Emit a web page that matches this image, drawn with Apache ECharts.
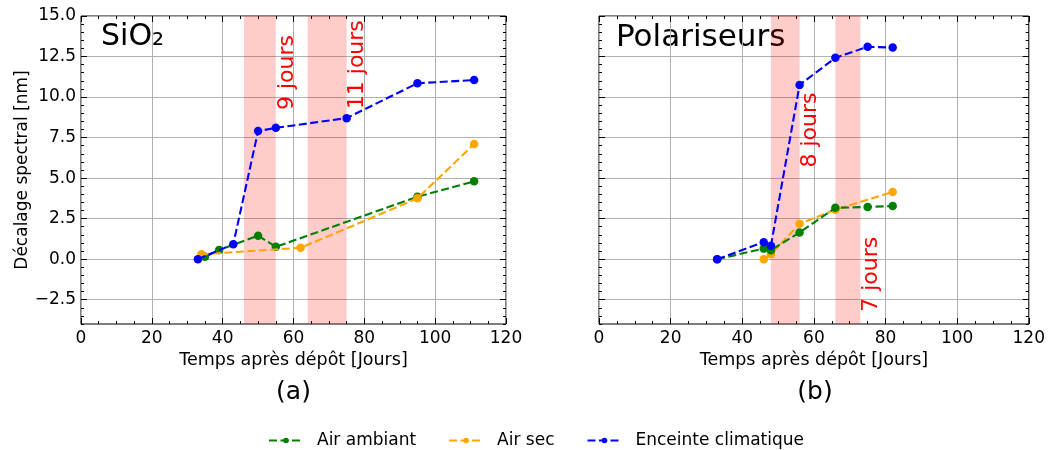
<!DOCTYPE html>
<html>
<head>
<meta charset="utf-8">
<script src="https://cdn.jsdelivr.net/npm/echarts@6/dist/echarts.min.js"></script>
<style>
  html, body { margin: 0; padding: 0; background: #fff; }
  #chart { width: 1048px; height: 450px; }
</style>
</head>
<body>
<div id="chart"></div>
<script>
const FONT = "DejaVu Sans";

// series names (legend order)
const names = ["Air ambiant", "Air sec", "Enceinte climatique"];
const colors = ["#008000", "#FFA500", "#0000FF"];

// (a) SiO2 : [jours, décalage nm]
const ambiantA = [[35, 0.15], [39, 0.57], [50, 1.45], [55, 0.76], [95, 3.85], [111, 4.8]];
const secA = [[34, 0.3], [62, 0.7], [95, 3.75], [111, 7.1]];
const enceinteA = [[33, 0], [43, 0.92], [50, 7.9], [55, 8.1], [75, 8.7], [95, 10.85], [111, 11.05]];

// (b) Polariseurs
const ambiantB = [[33, 0], [46, 0.65], [48, 0.55], [56, 1.65], [66, 3.17], [75, 3.22], [82, 3.28]];
const secB = [[46, 0], [48, 0.3], [56, 2.18], [66, 3.05], [82, 4.15]];
const enceinteB = [[33, 0], [46, 1.05], [48, 0.82], [56, 10.75], [66, 12.42], [75, 13.1], [82, 13.05]];

// shaded periods [start, end] and their labels [x, y, text]
const bandsA = [[46, 55], [64, 75]];
const bandsB = [[48, 56], [66, 73]];
const annotA = [[55, 9.2, "9 jours"], [75, 9.25, "11 jours"]];
const annotB = [[56, 5.65, "8 jours"], [73, -3.25, "7 jours"]];

// axes
const xMin = 0, xMax = 120, xStep = 20;
const yMin = -4, yMax = 15, yMinorStep = 0.5;
const yTicks = [-2.5, 0, 2.5, 5, 7.5, 10, 12.5, 15];

const txt = { fontFamily: FONT, color: "#000" };
const noLine = { show: false, onZero: false };

function xAxes(gi) {
  const base = {
    gridIndex: gi, type: "value", min: xMin, max: xMax, interval: xStep,
    axisLine: noLine,
    axisTick: { inside: true, length: 6, lineStyle: { color: "#000" } },
    minorTick: { show: true, splitNumber: 4, length: 3, lineStyle: { color: "#000" } },
  };
  return [
    Object.assign({}, base, {
      position: "bottom",
      axisLabel: Object.assign({ fontSize: 17, margin: 6 }, txt),
      splitLine: { show: true, lineStyle: { color: "#b0b0b0", width: 1 } },
      name: "Temps après dépôt [Jours]",
      nameLocation: "middle",
      nameGap: 27,
      nameTextStyle: Object.assign({ fontSize: 17.5 }, txt),
    }),
    Object.assign({}, base, {
      position: "top",
      axisLabel: { show: false },
      splitLine: { show: false },
    }),
  ];
}

function yAxes(gi, labels) {
  const major = {
    gridIndex: gi, type: "value", min: yMin, max: yMax,
    axisLine: noLine,
    axisTick: { inside: true, length: 6, customValues: yTicks, lineStyle: { color: "#000" } },
    splitLine: { show: false },
    axisLabel: { show: false },
  };
  const minor = {
    gridIndex: gi, type: "value", min: yMin, max: yMax, interval: yMinorStep,
    axisLine: noLine,
    axisTick: { inside: true, length: 3, lineStyle: { color: "#000" } },
    splitLine: { show: false },
    axisLabel: { show: false },
  };
  const left = Object.assign({}, major, {
    position: "left",
    splitLine: { show: true, lineStyle: { color: "#b0b0b0", width: 1 } },
    axisLabel: Object.assign({
      show: labels, customValues: yTicks, fontSize: 17, margin: 5,
      formatter: v => v.toFixed(1).replace("-", "\u2212"),
    }, txt),
  });
  if (labels) {
    left.name = "Décalage spectral [nm]";
    left.nameLocation = "middle";
    left.nameGap = 50;
    left.nameTextStyle = Object.assign({ fontSize: 17 }, txt);
  }
  return [
    left,
    Object.assign({}, minor, { position: "left" }),
    Object.assign({}, major, { position: "right" }),
    Object.assign({}, minor, { position: "right" }),
  ];
}

function line(name, color, data, xi, yi, z) {
  return {
    name: name, type: "line", xAxisIndex: xi, yAxisIndex: yi, data: data, z: z,
    symbol: "circle", symbolSize: 8.5, showSymbol: true,
    lineStyle: { color: color, width: 2.1, type: [8, 3.5] },
    itemStyle: { color: color },
    emphasis: { disabled: true },
  };
}

function bands(arr) {
  return {
    silent: true,
    itemStyle: { color: "rgba(255,0,0,0.2)" },
    data: arr.map(b => [{ xAxis: b[0] }, { xAxis: b[1] }]),
  };
}

function annot(arr, xi, yi) {
  return {
    type: "scatter", xAxisIndex: xi, yAxisIndex: yi, silent: true, z: 5,
    symbolSize: 1, itemStyle: { color: "transparent" },
    data: arr.map(a => ({
      value: [a[0], a[1]],
      label: {
        show: true, formatter: a[2], position: "inside", rotate: 90,
        align: "left", verticalAlign: "top", opacity: 1,
        fontSize: 22, fontFamily: FONT, color: "#ff0000",
      },
    })),
  };
}

const sA = [
  line(names[0], colors[0], ambiantA, 0, 0, 2),
  line(names[1], colors[1], secA, 0, 0, 3),
  line(names[2], colors[2], enceinteA, 0, 0, 4),
  annot(annotA, 0, 0),
];
sA[0].markArea = bands(bandsA);

const sB = [
  line(names[1], colors[1], secB, 2, 4, 2),
  line(names[0], colors[0], ambiantB, 2, 4, 3),
  line(names[2], colors[2], enceinteB, 2, 4, 4),
  annot(annotB, 2, 4),
];
sB[0].markArea = bands(bandsB);

const chart = echarts.init(document.getElementById("chart"), null, { renderer: "canvas" });
chart.setOption({
  animation: false,
  backgroundColor: "#fff",
  textStyle: { fontFamily: FONT },
  grid: [
    { left: 81, top: 16, width: 425, height: 308, show: true, borderColor: "#000", borderWidth: 1, backgroundColor: "transparent" },
    { left: 599, top: 16, width: 432, height: 308, show: true, borderColor: "#000", borderWidth: 1, backgroundColor: "transparent" },
  ],
  xAxis: xAxes(0).concat(xAxes(1)),
  yAxis: yAxes(0, true).concat(yAxes(1, false)),
  legend: {
    data: names, left: 263, top: 427,
    itemWidth: 34, itemHeight: 7, itemGap: 32,
    textStyle: Object.assign({ fontSize: 17, padding: [0, 0, 0, 9] }, txt),
  },
  graphic: [
    { type: "text", x: 101, y: 37.5, style: { text: "SiO\u2082", font: "30px 'DejaVu Sans'", fill: "#000", textAlign: "left", textVerticalAlign: "middle" } },
    { type: "text", x: 616, y: 38, style: { text: "Polariseurs", font: "31px 'DejaVu Sans'", fill: "#000", textAlign: "left", textVerticalAlign: "middle" } },
    { type: "text", x: 293.5, y: 392, style: { text: "(a)", font: "25px 'DejaVu Sans'", fill: "#000", textAlign: "center", textVerticalAlign: "middle" } },
    { type: "text", x: 815, y: 392, style: { text: "(b)", font: "25px 'DejaVu Sans'", fill: "#000", textAlign: "center", textVerticalAlign: "middle" } },
  ],
  series: sA.concat(sB),
});
</script>
</body>
</html>
